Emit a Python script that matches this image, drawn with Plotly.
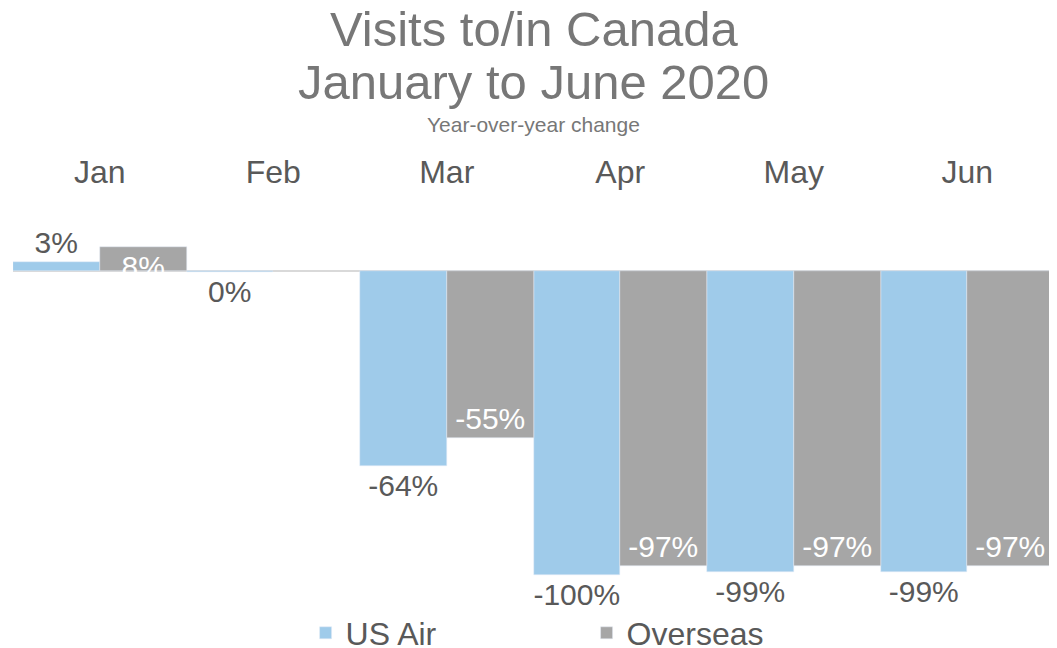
import plotly.graph_objects as go

months = ["Jan", "Feb", "Mar", "Apr", "May", "Jun"]
us_air = [3, -0.4, -64, -100, -99, -99]
overseas = [8, None, -55, -97, -97, -97]

title_lines = ["Visits to/in Canada", "January to June 2020"]
subtitle = "Year-over-year change"

BLUE = "#9FCBEA"
GRAY = "#A6A6A6"
TXT = "#595959"
TITLE = "#777777"
FONT = "Liberation Sans, Arial, sans-serif"

# the page body adds an 8px offset; the figure is sized to fit the window
OFF = 8
W, H = 1057 - OFF, 648 - OFF


def fmt(vals):
    return ["" if v is None else f"{round(v):d}%" for v in vals]


fig = go.Figure()
fig.add_trace(go.Bar(
    x=months, y=us_air, name="US Air", marker_color=BLUE,
    text=fmt(us_air), textposition="outside",
    textfont=dict(size=30, color=TXT, family=FONT),
    cliponaxis=False, constraintext="none",
))
fig.add_trace(go.Bar(
    x=months, y=overseas, name="Overseas", marker_color=GRAY,
    text=fmt(overseas), textposition="inside", insidetextanchor="end",
    textfont=dict(size=30, color="white", family=FONT),
    cliponaxis=False, constraintext="none",
))

PT = 190  # plot top, screen px
PH = 410  # plot height px


def ypaper(px):
    return 1 + (PT - px) / PH


annotations = [
    dict(text=title_lines[0], x=0.5, y=ypaper(29), font=dict(size=49, color=TITLE, family=FONT)),
    dict(text=title_lines[1], x=0.5, y=ypaper(82), font=dict(size=49, color=TITLE, family=FONT)),
    dict(text=subtitle, x=0.5, y=ypaper(124), font=dict(size=21, color=TITLE, family=FONT)),
]
for a in annotations:
    a.update(xref="paper", yref="paper", xanchor="center", yanchor="middle", showarrow=False)

fig.update_layout(
    width=W, height=H,
    margin=dict(l=13 - OFF, r=3, t=PT - OFF, b=H - (PT - OFF) - PH, pad=0, autoexpand=False),
    paper_bgcolor="white", plot_bgcolor="white",
    barmode="group", bargap=0, bargroupgap=0,
    font=dict(family=FONT, color=TXT),
    annotations=annotations,
    showlegend=True,
    legend=dict(orientation="h", x=0.551, xanchor="center", y=ypaper(633), yanchor="middle",
                font=dict(size=32, color=TXT, family=FONT), entrywidth=236,
                bgcolor="rgba(0,0,0,0)"),
    xaxis=dict(side="top", showline=False, ticks="", showgrid=False, zeroline=False,
               range=[-0.5, 5.5], tickfont=dict(size=32, color=TXT, family=FONT)),
    yaxis=dict(range=[-(PH - 81) / 3.04, 81 / 3.04], visible=True, showticklabels=False,
               showgrid=False, zeroline=True, zerolinecolor="#D9D9D9", zerolinewidth=2,
               showline=False, ticks=""),
)

fig.write_html("out.html")
